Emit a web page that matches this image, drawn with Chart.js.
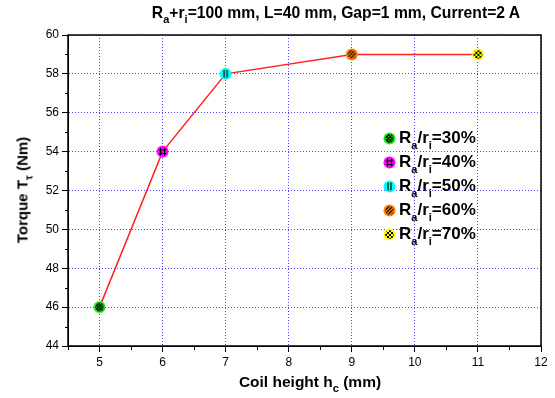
<!DOCTYPE html>
<html>
<head>
<meta charset="utf-8">
<script src="https://cdn.jsdelivr.net/npm/chart.js@4.4.1/dist/chart.umd.min.js"></script>
<style>
body { margin: 0; background: #fff; font-family: "Liberation Sans", Arial, sans-serif; }
#wrap { position: relative; width: 555px; height: 398px; }
.lbl { position: absolute; font-weight: bold; color: #000; white-space: nowrap; line-height: 1; }
.lbl sub { font-size: 11px; vertical-align: -5px; line-height: 0; }
#legend { position: absolute; left: 383px; top: 126px; }
#legend .row { display: flex; align-items: center; height: 24px; font-weight: bold; font-size: 17px; }
#legend canvas { margin-right: 3px; }
#legend sub { font-size: 11px; vertical-align: -6px; line-height: 0; }
</style>
</head>
<body>
<div id="wrap">
  <canvas id="chart" width="555" height="398"></canvas>
  <div class="lbl" style="left:336px;top:13px;font-size:15.7px;transform:translate(-50%,-50%)">R<sub>a</sub>+r<sub>i</sub>=100 mm, L=40 mm, Gap=1 mm, Current=2 A</div>
  <div class="lbl" style="left:22px;top:190px;font-size:15px;transform:translate(-50%,-50%) rotate(-90deg)">Torque T<sub>τ</sub> (Nm)</div>
  <div class="lbl" style="left:310px;top:382px;font-size:15.5px;transform:translate(-50%,-50%)">Coil height h<sub>c</sub> (mm)</div>
  <div id="legend"></div>
</div>
<script>
// coil height (mm) and torque (Nm), one point per Ra/ri ratio
const coilHeight = [5, 6, 7, 9, 11];
const torque = [46, 54, 58, 59, 59];
const ratios = ['30%', '40%', '50%', '60%', '70%'];

const markerColors = ['#1ee61e', '#ff00ff', '#00ffff', '#ff8000', '#ffff00'];
const markerHatch = ['cross', 'grid', 'vert', 'diag', 'check'];

function makeMarker(color, hatch) {
  const c = document.createElement('canvas');
  c.width = 13; c.height = 13;
  const g = c.getContext('2d');
  g.beginPath();
  g.arc(6.5, 6.5, 6, 0, Math.PI * 2);
  g.fillStyle = color;
  g.fill();
  g.save();
  g.beginPath();
  g.arc(6.5, 6.5, 4.2, 0, Math.PI * 2);
  g.clip();
  g.strokeStyle = '#000';
  g.fillStyle = '#000';
  g.lineWidth = 1.2;
  g.beginPath();
  if (hatch == 'cross') {
    for (let k = -8; k <= 8; k += 3.5) {
      g.moveTo(k, 0); g.lineTo(k + 13, 13);
      g.moveTo(k + 13, 0); g.lineTo(k, 13);
    }
    g.stroke();
  } else if (hatch == 'grid') {
    g.moveTo(4.5, 0); g.lineTo(4.5, 13);
    g.moveTo(8.5, 0); g.lineTo(8.5, 13);
    g.moveTo(0, 5); g.lineTo(13, 5);
    g.moveTo(0, 8.5); g.lineTo(13, 8.5);
    g.stroke();
  } else if (hatch == 'vert') {
    g.moveTo(5, 0); g.lineTo(5, 13);
    g.moveTo(8, 0); g.lineTo(8, 13);
    g.stroke();
  } else if (hatch == 'diag') {
    for (let k = -8; k <= 14; k += 3.5) {
      g.moveTo(k + 13, 0); g.lineTo(k, 13);
    }
    g.stroke();
  } else {
    for (let i = 0; i < 5; i++) {
      for (let j = 0; j < 5; j++) {
        if ((i + j) % 2 == 0) g.fillRect(2 + i * 2, 2 + j * 2, 2, 2);
      }
    }
  }
  g.restore();
  return c;
}

const markers = markerColors.map((col, i) => makeMarker(col, markerHatch[i]));

// legend
const legend = document.getElementById('legend');
ratios.forEach((r, i) => {
  const row = document.createElement('div');
  row.className = 'row';
  const m = makeMarker(markerColors[i], markerHatch[i]);
  row.appendChild(m);
  const t = document.createElement('span');
  t.innerHTML = 'R<sub>a</sub>/r<sub>i</sub>=' + r;
  row.appendChild(t);
  legend.appendChild(row);
});

// box around the plot + minor ticks
const frame = {
  id: 'frame',
  afterDraw(chart) {
    const { ctx, chartArea: a, scales: { x, y } } = chart;
    ctx.save();
    ctx.strokeStyle = '#000';
    ctx.lineWidth = 1.5;
    ctx.strokeRect(Math.round(a.left), Math.round(a.top), Math.round(a.right - a.left), Math.round(a.bottom - a.top));
    ctx.lineWidth = 1;
    ctx.beginPath();
    for (let v = 45; v < 60; v += 2) {
      const p = Math.round(y.getPixelForValue(v)) + 0.5;
      ctx.moveTo(a.left, p); ctx.lineTo(a.left - 3, p);
    }
    for (let v = 4.5; v < 12; v += 1) {
      const p = Math.round(x.getPixelForValue(v)) + 0.5;
      ctx.moveTo(p, a.bottom); ctx.lineTo(p, a.bottom + 4);
    }
    ctx.stroke();
    ctx.restore();
  }
};

const tickFont = { family: '"Liberation Sans", Arial, sans-serif', size: 12 };

new Chart(document.getElementById('chart'), {
  type: 'line',
  data: {
    datasets: [{
      data: coilHeight.map((h, i) => ({ x: h, y: torque[i] })),
      borderColor: '#ff2020',
      borderWidth: 1.5,
      tension: 0,
      pointStyle: markers,
      pointRadius: 6
    }]
  },
  options: {
    responsive: false,
    animation: false,
    layout: { padding: { left: 0, top: 35, right: 14, bottom: 0 } },
    plugins: { legend: { display: false }, tooltip: { enabled: false } },
    scales: {
      x: {
        type: 'linear',
        min: 4.5,
        max: 12,
        afterFit(s) { s.height = 52; },
        ticks: { stepSize: 1, includeBounds: false, color: '#000', font: tickFont, padding: 3, maxRotation: 0 },
        grid: { color: '#4646ff', tickColor: '#000', tickBorderDash: [], tickLength: 6 },
        border: { color: '#000', width: 1, dash: [1, 2] }
      },
      y: {
        min: 44,
        max: 60,
        afterFit(s) { s.width = 68; },
        ticks: { stepSize: 2, color: '#000', font: tickFont, padding: 3 },
        grid: { color: '#4646ff', tickColor: '#000', tickBorderDash: [], tickLength: 6 },
        border: { color: '#000', width: 1, dash: [1, 2] }
      }
    }
  },
  plugins: [frame]
});
</script>
</body>
</html>
